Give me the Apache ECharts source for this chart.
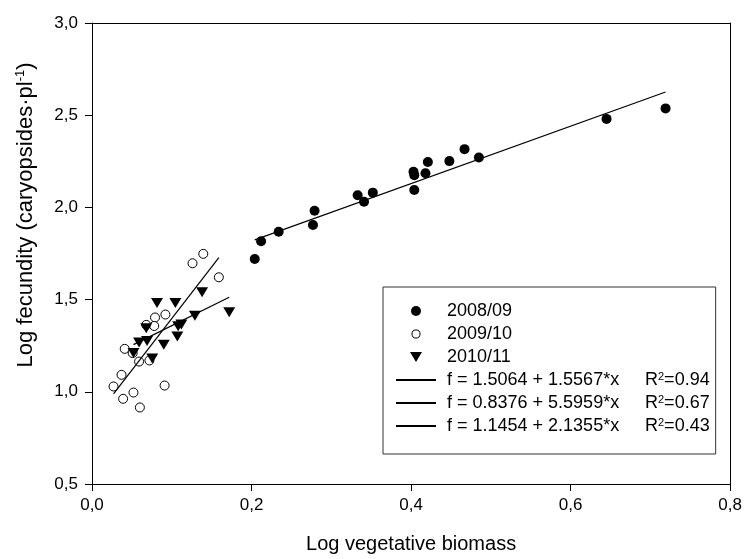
<!DOCTYPE html>
<html><head><meta charset="utf-8">
<script src="https://cdn.jsdelivr.net/npm/echarts@6/dist/echarts.min.js"></script>
<style>html,body{margin:0;padding:0;background:#fff}#c{width:745px;height:559px}</style>
</head><body><div id="c"></div>
<script>
// ---- data ----
const xRange = [0, 0.8];
const yRange = [0.5, 3.0];
const xStep = 0.2;
const yStep = 0.5;

const seriesNames = ['2008/09', '2009/10', '2010/11'];

const x0809 = [0.204, 0.212, 0.234, 0.277, 0.279, 0.333, 0.341, 0.352, 0.403, 0.404, 0.404, 0.418, 0.421, 0.448, 0.467, 0.485, 0.645, 0.719];
const y0809 = [1.720, 1.816, 1.868, 1.905, 1.982, 2.066, 2.031, 2.080, 2.193, 2.175, 2.094, 2.185, 2.246, 2.251, 2.316, 2.271, 2.480, 2.537];

const x0910 = [0.027, 0.037, 0.039, 0.041, 0.052, 0.060, 0.051, 0.059, 0.068, 0.072, 0.079, 0.078, 0.092, 0.091, 0.126, 0.1395, 0.159];
const y0910 = [1.029, 1.092, 0.962, 1.233, 0.996, 0.915, 1.210, 1.164, 1.363, 1.170, 1.403, 1.357, 1.419, 1.034, 1.697, 1.748, 1.621];

const x1011 = [0.052, 0.059, 0.069, 0.068, 0.0755, 0.0815, 0.090, 0.1045, 0.107, 0.108, 0.112, 0.129, 0.138, 0.172];
const y1011 = [1.210, 1.268, 1.275, 1.345, 1.180, 1.482, 1.255, 1.482, 1.300, 1.355, 1.365, 1.413, 1.540, 1.432];

const fitNames = ['f = 1.5064 + 1.5567*x', 'f = 0.8376 + 5.5959*x', 'f = 1.1454 + 2.1355*x'];
const fitR2 = ['0.94', '0.67', '0.43'];
const fitX = [[0.204, 0.719], [0.027, 0.159], [0.052, 0.172]];
const fitY = [[1.824, 2.626], [0.989, 1.727], [1.256, 1.513]];

// ---- chart ----
const FONT = 'Liberation Sans, Arial, sans-serif';
const zip = (xs, ys) => xs.map((v, i) => [v, ys[i]]);
const comma = v => v.toFixed(1).replace('.', ',');

const chart = echarts.init(document.getElementById('c'), null, {renderer: 'canvas'});

const fitSeries = fitNames.map((n, i) => ({
  name: n, type: 'line', data: zip(fitX[i], fitY[i]),
  symbol: 'none', lineStyle: {color: '#000', width: 1.2}, itemStyle: {color: '#000'},
  z: 5, silent: true, animation: false
}));

const triPath = 'path://M0,0L12,0L6,10Z';
const linePath = 'path://M0,0L40,0L40,1.8L0,1.8Z';
const ringIcon = 'path://M-1.2,-1.2L-1.2,-1.2M11.2,11.2L11.2,11.2M0,5A5,5 0 1 1 10,5A5,5 0 1 1 0,5Z';

const option = {
  animation: false,
  backgroundColor: '#fff',
  grid: {left: 92, right: 12, top: 23, bottom: 75, containLabel: false},
  xAxis: [{
    type: 'value', min: xRange[0], max: xRange[1], interval: xStep,
    name: 'Log vegetative biomass', nameLocation: 'middle', nameGap: 50,
    nameTextStyle: {fontFamily: FONT, fontSize: 20, color: '#000'},
    axisLine: {show: true, onZero: false, lineStyle: {color: '#000', width: 1}},
    axisTick: {show: true, length: 7, lineStyle: {color: '#000'}},
    axisLabel: {formatter: comma, fontFamily: FONT, fontSize: 17, color: '#000', margin: 13},
    splitLine: {show: false}
  }, {
    type: 'value', position: 'top', min: xRange[0], max: xRange[1], interval: xStep,
    axisLine: {show: true, onZero: false, lineStyle: {color: '#000', width: 1}},
    axisTick: {show: false}, axisLabel: {show: false}, splitLine: {show: false}
  }],
  yAxis: [{
    type: 'value', min: yRange[0], max: yRange[1], interval: yStep,
    name: 'Log fecundity (caryopsides·pl{sup|-1})', nameLocation: 'middle', nameGap: 54, nameRotate: 90,
    nameTextStyle: {fontFamily: FONT, fontSize: 22, color: '#000', lineHeight: 24, padding: [0, 0, 0, 77],
      rich: {sup: {fontFamily: FONT, fontSize: 13, color: '#000', verticalAlign: 'top', lineHeight: 24}}},
    axisLine: {show: true, onZero: false, lineStyle: {color: '#000', width: 1}},
    axisTick: {show: true, length: 7, lineStyle: {color: '#000'}},
    axisLabel: {formatter: comma, fontFamily: FONT, fontSize: 17, color: '#000', margin: 14},
    splitLine: {show: false}
  }, {
    type: 'value', position: 'right', min: yRange[0], max: yRange[1], interval: yStep,
    axisLine: {show: true, onZero: false, lineStyle: {color: '#000', width: 1}},
    axisTick: {show: false}, axisLabel: {show: false}, splitLine: {show: false}
  }],
  legend: {
    orient: 'vertical', left: 383, top: 287,
    padding: [15, 6, 19, 13],
    itemWidth: 40, itemHeight: 10, itemGap: 5,
    borderColor: '#333', borderWidth: 1, backgroundColor: '#fff',
    selectedMode: false,
    textStyle: {fontFamily: FONT, fontSize: 18, color: '#000', lineHeight: 17, padding: [0, 0, 0, 6],
      rich: {
        eq: {fontFamily: FONT, fontSize: 18, color: '#000', width: 198, lineHeight: 17},
        r: {fontFamily: FONT, fontSize: 18, color: '#000', lineHeight: 17},
        sup: {fontFamily: FONT, fontSize: 11, color: '#000', verticalAlign: 'top', lineHeight: 17}
      }},
    formatter: name => {
      const i = fitNames.indexOf(name);
      if (i < 0) return name;
      return '{eq|' + name + '}{r|R}{sup|2}{r|=' + fitR2[i] + '}';
    },
    data: [
      {name: seriesNames[0], icon: 'circle', itemStyle: {color: '#000', borderWidth: 0}},
      {name: seriesNames[1], icon: ringIcon, itemStyle: {color: '#fff', borderColor: '#000', borderWidth: 1}},
      {name: seriesNames[2], icon: triPath, itemStyle: {color: '#000', borderWidth: 0}},
      {name: fitNames[0], icon: linePath, itemStyle: {color: '#000', borderWidth: 0}},
      {name: fitNames[1], icon: linePath, itemStyle: {color: '#000', borderWidth: 0}},
      {name: fitNames[2], icon: linePath, itemStyle: {color: '#000', borderWidth: 0}}
    ]
  },
  series: [
    {name: seriesNames[0], type: 'scatter', data: zip(x0809, y0809), symbol: 'circle', symbolSize: 10,
      itemStyle: {color: '#000', opacity: 1}, z: 3},
    {name: seriesNames[1], type: 'scatter', data: zip(x0910, y0910), symbol: 'circle', symbolSize: 9,
      itemStyle: {color: '#fff', borderColor: '#000', borderWidth: 1, opacity: 1}, z: 3},
    {name: seriesNames[2], type: 'scatter', data: zip(x1011, y1011), symbol: triPath, symbolSize: [12, 10],
      itemStyle: {color: '#000', opacity: 1}, z: 4},
    ...fitSeries
  ]
};
chart.setOption(option);
</script></body></html>
